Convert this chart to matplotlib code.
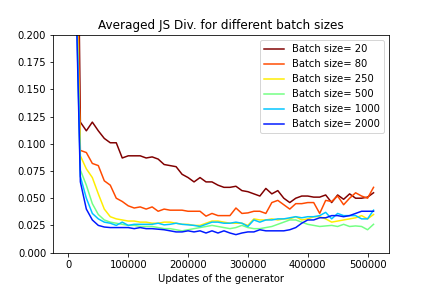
import numpy as np
import matplotlib
matplotlib.use('Agg')
import matplotlib.pyplot as plt
from matplotlib import cm

# generator updates (every 10k)
updates = np.arange(0, 520000, 10000)

batch_sizes = [20, 80, 250, 500, 1000, 2000]

js_20 = [0.69, 0.60, 0.120, 0.112, 0.120, 0.112, 0.105, 0.101, 0.101, 0.087,
         0.089, 0.089, 0.089, 0.087, 0.088, 0.086, 0.081, 0.080, 0.079, 0.072,
         0.069, 0.065, 0.069, 0.065, 0.065, 0.062, 0.060, 0.060, 0.061, 0.057,
         0.056, 0.054, 0.052, 0.059, 0.054, 0.057, 0.050, 0.046, 0.050, 0.052,
         0.052, 0.051, 0.051, 0.053, 0.046, 0.053, 0.049, 0.054, 0.050, 0.050,
         0.051, 0.055]
js_80 = [0.69, 0.45, 0.094, 0.092, 0.082, 0.080, 0.066, 0.062, 0.050, 0.047,
         0.043, 0.041, 0.042, 0.040, 0.042, 0.038, 0.040, 0.039, 0.039, 0.039,
         0.038, 0.038, 0.038, 0.0335, 0.036, 0.034, 0.034, 0.034, 0.041, 0.036,
         0.0365, 0.038, 0.038, 0.036, 0.046, 0.048, 0.044, 0.040, 0.045, 0.045,
         0.046, 0.046, 0.036, 0.048, 0.047, 0.052, 0.044, 0.050, 0.055, 0.052,
         0.050, 0.060]
js_250 = [0.69, 0.33, 0.089, 0.077, 0.069, 0.054, 0.040, 0.033, 0.031, 0.030,
          0.029, 0.029, 0.028, 0.028, 0.027, 0.027, 0.028, 0.028, 0.027, 0.026,
          0.026, 0.025, 0.025, 0.027, 0.029, 0.029, 0.028, 0.027, 0.027, 0.027,
          0.025, 0.031, 0.030, 0.030, 0.031, 0.030, 0.031, 0.031, 0.033, 0.030,
          0.031, 0.033, 0.033, 0.031, 0.028, 0.029, 0.030, 0.031, 0.032, 0.034,
          0.031, 0.035]
js_500 = [0.69, 0.32, 0.076, 0.062, 0.045, 0.035, 0.030, 0.028, 0.027, 0.026,
          0.025, 0.025, 0.024, 0.024, 0.024, 0.023, 0.022, 0.022, 0.021, 0.020,
          0.021, 0.022, 0.023, 0.024, 0.025, 0.024, 0.023, 0.022, 0.023, 0.025,
          0.023, 0.022, 0.022, 0.023, 0.024, 0.026, 0.028, 0.030, 0.030, 0.028,
          0.026, 0.025, 0.024, 0.0245, 0.025, 0.024, 0.026, 0.024, 0.0245, 0.024,
          0.021, 0.026]
js_1000 = [0.69, 0.31, 0.070, 0.050, 0.036, 0.031, 0.028, 0.027, 0.025, 0.028,
           0.025, 0.026, 0.026, 0.026, 0.026, 0.027, 0.0255, 0.026, 0.027, 0.026,
           0.0255, 0.025, 0.024, 0.026, 0.028, 0.028, 0.027, 0.027, 0.028, 0.027,
           0.024, 0.030, 0.028, 0.030, 0.030, 0.031, 0.031, 0.032, 0.033, 0.032,
           0.033, 0.033, 0.034, 0.037, 0.031, 0.036, 0.034, 0.034, 0.034, 0.031,
           0.031, 0.039]
js_2000 = [0.69, 0.30, 0.065, 0.040, 0.030, 0.025, 0.0235, 0.023, 0.023, 0.023,
           0.023, 0.022, 0.023, 0.022, 0.022, 0.0215, 0.021, 0.020, 0.019, 0.019,
           0.020, 0.019, 0.020, 0.018, 0.020, 0.018, 0.020, 0.018, 0.0165, 0.018,
           0.019, 0.019, 0.021, 0.020, 0.020, 0.020, 0.020, 0.021, 0.023, 0.027,
           0.030, 0.030, 0.032, 0.032, 0.034, 0.034, 0.033, 0.034, 0.036, 0.038,
           0.038, 0.038]

series = [js_20, js_80, js_250, js_500, js_1000, js_2000]
colors = cm.jet(np.linspace(1.0, 0.15, len(batch_sizes)))

fig, ax = plt.subplots(figsize=(6, 4), dpi=72)
fig.subplots_adjust(left=0.123, right=0.9, top=0.878, bottom=0.123)

for bs, vals, c in zip(batch_sizes, series, colors):
    ax.plot(updates, vals, color=c, label='Batch size= %d' % bs)

ax.set_ylim(0, 0.2)
ax.set_xlabel('Updates of the generator')
ax.set_title('Averaged JS Div. for different batch sizes')
ax.legend(loc='upper right')

plt.savefig('out.png', dpi=72)
